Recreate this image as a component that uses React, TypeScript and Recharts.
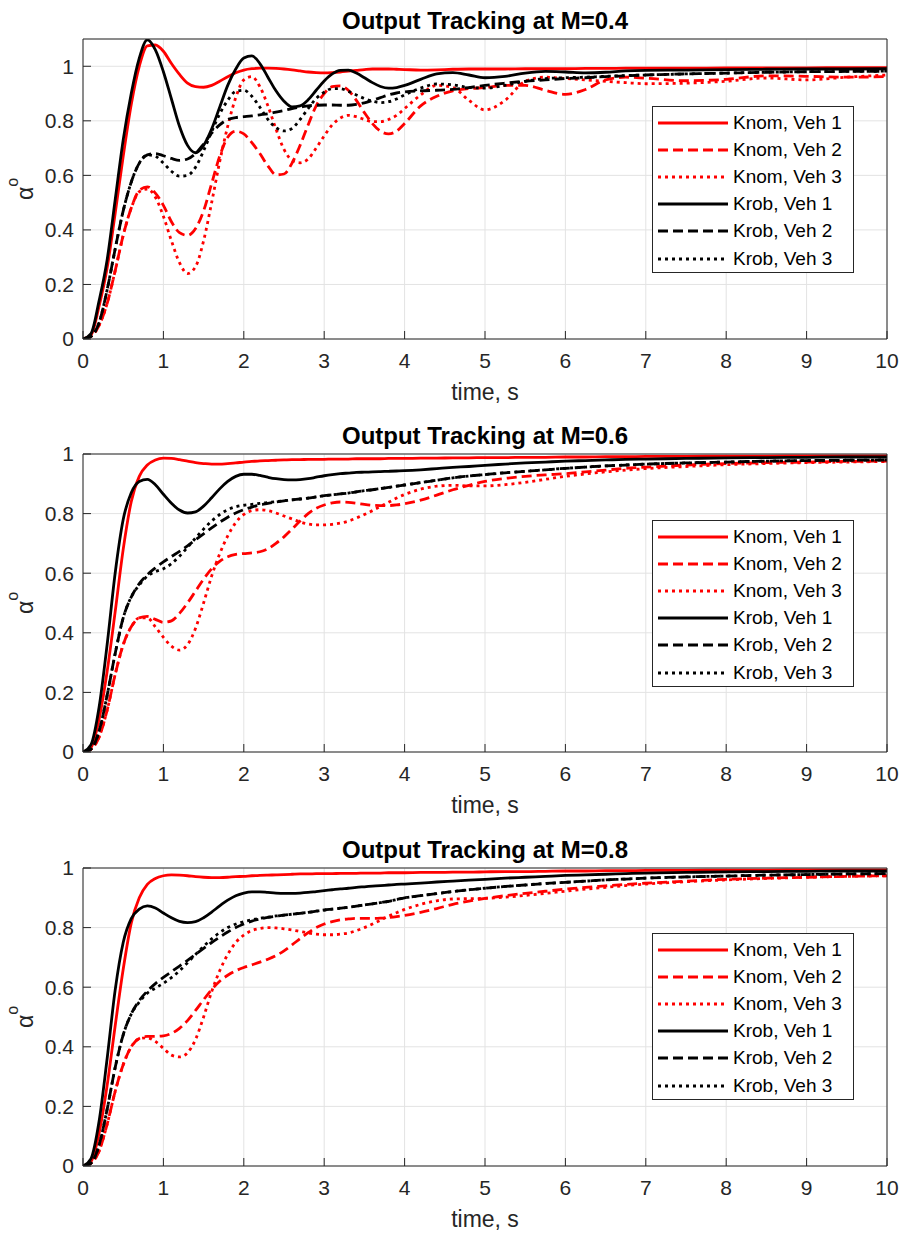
import React from "react";
import { CartesianGrid, Legend, Line, LineChart, XAxis, YAxis } from "recharts";

// sample times (s), shared by every curve
const TIME = [
  0, 0.1, 0.2, 0.3, 0.4, 0.5, 0.6, 0.7, 0.8, 0.9,
  1, 1.1, 1.2, 1.3, 1.4, 1.5, 1.6, 1.7, 1.8, 1.9,
  2, 2.1, 2.2, 2.3, 2.4, 2.5, 2.6, 2.7, 2.8, 2.9,
  3, 3.1, 3.2, 3.3, 3.4, 3.5, 3.6, 3.7, 3.8, 3.9,
  4, 4.2, 4.4, 4.6, 4.8, 5, 5.25, 5.5, 5.75, 6,
  6.25, 6.5, 6.75, 7, 7.5, 8, 8.5, 9, 9.5, 10,
];
const X_TICKS = [0, 1, 2, 3, 4, 5, 6, 7, 8, 9, 10];
const Y_TICKS = [0, 0.2, 0.4, 0.6, 0.8, 1];
const SERIES_NAMES = ["Knom, Veh 1", "Knom, Veh 2", "Knom, Veh 3", "Krob, Veh 1", "Krob, Veh 2", "Krob, Veh 3"];
const TITLES = ["Output Tracking at M=0.4", "Output Tracking at M=0.6", "Output Tracking at M=0.8"];

// M = 0.4
const M04_KNOM_V1 = [
  0, 0.015, 0.12, 0.26, 0.46, 0.67, 0.86, 1.0, 1.075, 1.078,
  1.055, 1.01, 0.97, 0.938, 0.925, 0.923, 0.93, 0.945, 0.962, 0.976,
  0.986, 0.991, 0.993, 0.993, 0.992, 0.99, 0.987, 0.983, 0.979, 0.977,
  0.976, 0.977, 0.979, 0.982, 0.985, 0.988, 0.99, 0.99, 0.99, 0.989,
  0.988, 0.986, 0.987, 0.989, 0.99, 0.99, 0.99, 0.991, 0.991, 0.991,
  0.992, 0.992, 0.993, 0.993, 0.993, 0.994, 0.994, 0.994, 0.995, 0.995,
];
const M04_KNOM_V2 = [
  0, 0.01, 0.05, 0.13, 0.25, 0.38, 0.48, 0.545, 0.558, 0.535,
  0.49, 0.43, 0.39, 0.38, 0.405, 0.47, 0.57, 0.67, 0.74, 0.762,
  0.752, 0.72, 0.68, 0.635, 0.602, 0.605, 0.645, 0.71, 0.785, 0.855,
  0.9, 0.925, 0.928, 0.912, 0.875, 0.83, 0.79, 0.762, 0.752, 0.762,
  0.79, 0.855, 0.89, 0.91, 0.918, 0.922, 0.93, 0.93, 0.912, 0.897,
  0.915, 0.95, 0.96, 0.956, 0.947, 0.952, 0.965, 0.963, 0.96, 0.962,
];
const M04_KNOM_V3 = [
  0, 0.01, 0.05, 0.13, 0.25, 0.38, 0.48, 0.54, 0.55, 0.52,
  0.45, 0.36, 0.28, 0.24, 0.265, 0.36, 0.5, 0.65, 0.78, 0.885,
  0.95, 0.962, 0.925, 0.855, 0.77, 0.695, 0.655, 0.646, 0.66, 0.7,
  0.745, 0.785, 0.81, 0.82, 0.815, 0.805, 0.797, 0.797, 0.805, 0.82,
  0.845, 0.895, 0.93, 0.922, 0.875, 0.84, 0.875, 0.945, 0.96, 0.955,
  0.95, 0.945, 0.94, 0.936, 0.938, 0.945, 0.957, 0.95, 0.96, 0.968,
];
const M04_KROB_V1 = [
  0, 0.02, 0.14, 0.29, 0.51, 0.73, 0.9, 1.03, 1.097, 1.06,
  0.98, 0.88, 0.78, 0.71, 0.683, 0.71, 0.77, 0.85, 0.93, 0.99,
  1.03, 1.038, 1.01, 0.96, 0.91, 0.872, 0.851, 0.855, 0.877, 0.912,
  0.946, 0.972, 0.985, 0.986, 0.975, 0.958, 0.94, 0.926, 0.92, 0.922,
  0.93, 0.952, 0.972, 0.977, 0.968, 0.958, 0.963, 0.975, 0.981, 0.979,
  0.976, 0.978, 0.983, 0.985, 0.986, 0.988, 0.989, 0.99, 0.99, 0.991,
];
const M04_KROB_V2 = [
  0, 0.01, 0.06, 0.18, 0.33, 0.47, 0.575, 0.645, 0.675, 0.68,
  0.672, 0.662, 0.655, 0.66, 0.68, 0.715, 0.755, 0.785, 0.805, 0.812,
  0.815, 0.818, 0.822, 0.826, 0.832, 0.838, 0.845, 0.85, 0.855, 0.857,
  0.858, 0.858, 0.857, 0.857, 0.86, 0.866, 0.875, 0.885, 0.895, 0.902,
  0.906, 0.91, 0.912, 0.915, 0.922, 0.93, 0.938, 0.945, 0.95, 0.955,
  0.958, 0.962, 0.965, 0.968, 0.972, 0.975, 0.978, 0.98, 0.981, 0.982,
];
const M04_KROB_V3 = [
  0, 0.01, 0.06, 0.18, 0.33, 0.47, 0.575, 0.645, 0.675, 0.67,
  0.645, 0.615, 0.597, 0.6, 0.63, 0.69, 0.76, 0.825, 0.875, 0.908,
  0.912, 0.89, 0.85, 0.805, 0.775, 0.763, 0.772, 0.805, 0.845, 0.882,
  0.905, 0.918, 0.918, 0.908, 0.895, 0.882, 0.872, 0.867, 0.87, 0.88,
  0.895, 0.92, 0.935, 0.932, 0.922, 0.92, 0.93, 0.945, 0.955, 0.958,
  0.96, 0.963, 0.966, 0.968, 0.972, 0.975, 0.978, 0.98, 0.981, 0.982,
];

// M = 0.6
const M06_KNOM_V1 = [
  0, 0.015, 0.11, 0.27, 0.47, 0.68, 0.84, 0.925, 0.963, 0.98,
  0.986, 0.985, 0.981, 0.976, 0.971, 0.968, 0.966, 0.966, 0.968, 0.97,
  0.973, 0.975, 0.977, 0.978, 0.979, 0.98, 0.981, 0.981, 0.982, 0.982,
  0.982, 0.983, 0.983, 0.983, 0.984, 0.984, 0.984, 0.984, 0.985, 0.985,
  0.985, 0.986, 0.986, 0.987, 0.987, 0.988, 0.988, 0.989, 0.989, 0.99,
  0.99, 0.991, 0.991, 0.992, 0.992, 0.993, 0.993, 0.994, 0.994, 0.994,
];
const M06_KNOM_V2 = [
  0, 0.01, 0.05, 0.14, 0.26, 0.36, 0.42, 0.45, 0.455, 0.445,
  0.435, 0.44, 0.465, 0.5, 0.54, 0.58, 0.615, 0.64, 0.655, 0.663,
  0.666, 0.668, 0.672, 0.682, 0.7, 0.722, 0.748, 0.775, 0.8, 0.818,
  0.829, 0.836, 0.839, 0.838, 0.835, 0.831, 0.828, 0.827, 0.827, 0.829,
  0.833, 0.845, 0.862, 0.88, 0.895, 0.908, 0.918, 0.925, 0.93, 0.934,
  0.94, 0.946, 0.952, 0.956, 0.963, 0.968, 0.971, 0.973, 0.975, 0.976,
];
const M06_KNOM_V3 = [
  0, 0.01, 0.05, 0.14, 0.26, 0.36, 0.42, 0.45, 0.45, 0.42,
  0.385, 0.355, 0.342, 0.36, 0.415, 0.5, 0.59, 0.665, 0.725, 0.77,
  0.797, 0.81, 0.813, 0.81, 0.802, 0.792, 0.782, 0.772, 0.765, 0.762,
  0.762, 0.764, 0.768, 0.775, 0.785, 0.797, 0.81, 0.824, 0.838, 0.852,
  0.864, 0.882, 0.892, 0.895, 0.893, 0.893, 0.897, 0.905, 0.915, 0.925,
  0.933, 0.94, 0.946, 0.951, 0.958, 0.964, 0.968, 0.971, 0.973, 0.975,
];
const M06_KROB_V1 = [
  0, 0.025, 0.15, 0.36, 0.6, 0.78, 0.87, 0.908, 0.915, 0.897,
  0.865, 0.835, 0.812, 0.802, 0.806, 0.825, 0.853, 0.883, 0.908, 0.925,
  0.932, 0.932, 0.928, 0.922, 0.917, 0.914, 0.913, 0.914, 0.917, 0.922,
  0.927, 0.931, 0.934, 0.936, 0.938, 0.939, 0.94, 0.941, 0.942, 0.943,
  0.944, 0.947, 0.951, 0.955, 0.958, 0.962, 0.966, 0.97, 0.973, 0.976,
  0.978, 0.98, 0.982, 0.983, 0.985, 0.987, 0.988, 0.989, 0.99, 0.99,
];
const M06_KROB_V2 = [
  0, 0.01, 0.07, 0.19, 0.33, 0.45, 0.52, 0.565, 0.595, 0.618,
  0.638, 0.656, 0.673, 0.692, 0.712, 0.732, 0.752, 0.771, 0.788, 0.802,
  0.813, 0.822, 0.829, 0.834, 0.839, 0.843, 0.846, 0.849, 0.852, 0.856,
  0.86, 0.863, 0.866, 0.869, 0.873, 0.877, 0.88, 0.884, 0.888, 0.892,
  0.896, 0.904, 0.912, 0.92, 0.926, 0.931, 0.937, 0.942, 0.947, 0.952,
  0.956, 0.96, 0.963, 0.966, 0.97, 0.973, 0.976, 0.978, 0.979, 0.98,
];
const M06_KROB_V3 = [
  0, 0.01, 0.07, 0.19, 0.33, 0.45, 0.52, 0.56, 0.59, 0.605,
  0.615, 0.632, 0.657, 0.687, 0.718, 0.748, 0.775, 0.797, 0.813, 0.823,
  0.828, 0.831, 0.834, 0.837, 0.84, 0.843, 0.846, 0.849, 0.852, 0.856,
  0.86, 0.863, 0.866, 0.869, 0.873, 0.877, 0.88, 0.884, 0.888, 0.892,
  0.896, 0.904, 0.912, 0.92, 0.926, 0.931, 0.937, 0.942, 0.947, 0.952,
  0.956, 0.96, 0.963, 0.966, 0.97, 0.973, 0.976, 0.978, 0.979, 0.98,
];

// M = 0.8
const M08_KNOM_V1 = [
  0, 0.015, 0.11, 0.27, 0.47, 0.66, 0.815, 0.9, 0.945, 0.965,
  0.974, 0.977, 0.976, 0.974, 0.971, 0.969, 0.968, 0.968, 0.969, 0.971,
  0.972, 0.974, 0.975, 0.976, 0.977, 0.978, 0.979, 0.98, 0.98, 0.981,
  0.981, 0.981, 0.982, 0.982, 0.982, 0.983, 0.983, 0.983, 0.984, 0.984,
  0.984, 0.985, 0.985, 0.986, 0.986, 0.987, 0.988, 0.988, 0.989, 0.99,
  0.99, 0.991, 0.991, 0.992, 0.992, 0.993, 0.993, 0.994, 0.994, 0.994,
];
const M08_KNOM_V2 = [
  0, 0.01, 0.05, 0.14, 0.25, 0.34, 0.4, 0.428, 0.435, 0.435,
  0.437, 0.445, 0.462, 0.488, 0.522, 0.558, 0.592, 0.62, 0.64, 0.655,
  0.666, 0.675, 0.684, 0.694, 0.706, 0.722, 0.742, 0.763, 0.783, 0.8,
  0.812, 0.82, 0.826, 0.829, 0.831, 0.831, 0.831, 0.832, 0.834, 0.837,
  0.841, 0.851, 0.864, 0.878, 0.889, 0.898, 0.907, 0.915, 0.922, 0.929,
  0.935, 0.94, 0.945, 0.949, 0.956, 0.962, 0.966, 0.969, 0.972, 0.974,
];
const M08_KNOM_V3 = [
  0, 0.01, 0.05, 0.14, 0.25, 0.34, 0.4, 0.427, 0.43, 0.418,
  0.395, 0.372, 0.366, 0.38, 0.425, 0.5, 0.585, 0.655, 0.71, 0.75,
  0.775, 0.79, 0.797, 0.8, 0.799, 0.796, 0.792, 0.787, 0.782, 0.778,
  0.776, 0.776, 0.778, 0.782, 0.79, 0.8, 0.812, 0.825, 0.838, 0.85,
  0.861, 0.878, 0.89, 0.896, 0.897, 0.898, 0.902, 0.908, 0.915, 0.922,
  0.929, 0.935, 0.941, 0.946, 0.954, 0.96, 0.965, 0.969, 0.972, 0.974,
];
const M08_KROB_V1 = [
  0, 0.025, 0.15, 0.36, 0.59, 0.75, 0.83, 0.862, 0.873, 0.866,
  0.849, 0.833, 0.821, 0.817, 0.82, 0.833, 0.852, 0.873, 0.892, 0.907,
  0.916, 0.92, 0.92, 0.918, 0.916, 0.915, 0.915, 0.916, 0.918, 0.921,
  0.924, 0.927, 0.93, 0.932, 0.935, 0.937, 0.939, 0.941, 0.943, 0.945,
  0.946, 0.949, 0.953, 0.956, 0.959, 0.962, 0.966, 0.969, 0.972, 0.975,
  0.977, 0.979, 0.981, 0.983, 0.985, 0.987, 0.988, 0.989, 0.99, 0.99,
];
const M08_KROB_V2 = [
  0, 0.01, 0.07, 0.19, 0.33, 0.44, 0.51, 0.555, 0.587, 0.612,
  0.633, 0.652, 0.671, 0.69, 0.71, 0.73, 0.75, 0.768, 0.785, 0.8,
  0.812, 0.822, 0.829, 0.834, 0.838, 0.842, 0.845, 0.848, 0.851, 0.855,
  0.859, 0.862, 0.865, 0.868, 0.872, 0.876, 0.88, 0.884, 0.888, 0.894,
  0.9, 0.907, 0.914, 0.921, 0.927, 0.932, 0.938, 0.943, 0.948, 0.952,
  0.956, 0.96, 0.963, 0.966, 0.97, 0.973, 0.976, 0.978, 0.98, 0.981,
];
const M08_KROB_V3 = [
  0, 0.01, 0.07, 0.19, 0.33, 0.44, 0.51, 0.55, 0.58, 0.597,
  0.613, 0.632, 0.655, 0.682, 0.71, 0.737, 0.762, 0.783, 0.8, 0.812,
  0.82, 0.826, 0.831, 0.835, 0.839, 0.842, 0.845, 0.848, 0.851, 0.855,
  0.859, 0.862, 0.865, 0.868, 0.872, 0.876, 0.88, 0.884, 0.888, 0.894,
  0.9, 0.907, 0.914, 0.921, 0.927, 0.932, 0.938, 0.943, 0.948, 0.952,
  0.956, 0.96, 0.963, 0.966, 0.97, 0.973, 0.976, 0.978, 0.98, 0.981,
];

const LINE_STYLES = [
  { key: "knom1", color: "#ff0000", dash: undefined },
  { key: "knom2", color: "#ff0000", dash: "10 5" },
  { key: "knom3", color: "#ff0000", dash: "3 4" },
  { key: "krob1", color: "#000000", dash: undefined },
  { key: "krob2", color: "#000000", dash: "10 5" },
  { key: "krob3", color: "#000000", dash: "3 4" },
];

const PANELS = [
  {
    title: TITLES[0], yMax: 1.1, top: 0, plotTop: 39, plotBottom: 339, legendTop: 106,
    values: [M04_KNOM_V1, M04_KNOM_V2, M04_KNOM_V3, M04_KROB_V1, M04_KROB_V2, M04_KROB_V3],
  },
  {
    title: TITLES[1], yMax: 1, top: 410, plotTop: 454, plotBottom: 752, legendTop: 520,
    values: [M06_KNOM_V1, M06_KNOM_V2, M06_KNOM_V3, M06_KROB_V1, M06_KROB_V2, M06_KROB_V3],
  },
  {
    title: TITLES[2], yMax: 1, top: 823, plotTop: 868, plotBottom: 1166, legendTop: 933,
    values: [M08_KNOM_V1, M08_KNOM_V2, M08_KNOM_V3, M08_KROB_V1, M08_KROB_V2, M08_KROB_V3],
  },
];

const AXIS = "#262626";
const TICK_STYLE = { fill: AXIS, fontSize: 21 };
const LINE_WIDTH = 2.8;

function AlphaLabel({ lx, ly }: { lx: number; ly: number }) {
  return (
    <text x={lx} y={ly} transform={`rotate(-90 ${lx} ${ly})`} textAnchor="middle" fill={AXIS} fontSize={23}>
      α
      <tspan fontSize={16} dy={-15}>
        o
      </tspan>
    </text>
  );
}

function LegendBox() {
  return (
    <div
      style={{
        width: 202,
        height: 167,
        boxSizing: "border-box",
        border: `1px solid ${AXIS}`,
        background: "#fff",
        paddingTop: 2,
      }}
    >
      {LINE_STYLES.map((s, i) => (
        <div key={s.key} style={{ display: "flex", alignItems: "center", height: 27.2 }}>
          <svg width={80} height={10} style={{ display: "block" }}>
            <line x1={5} x2={75} y1={5} y2={5} stroke={s.color} strokeWidth={LINE_WIDTH} strokeDasharray={s.dash} />
          </svg>
          <span style={{ fontSize: 19, color: "#000", lineHeight: "20px", whiteSpace: "nowrap" }}>{SERIES_NAMES[i]}</span>
        </div>
      ))}
    </div>
  );
}

function Panel({ p }: { p: (typeof PANELS)[number] }) {
  const height = p.plotBottom - p.top + 69;
  const data = TIME.map((t, i) => {
    const row: Record<string, number> = { t };
    LINE_STYLES.forEach((s, k) => {
      row[s.key] = p.values[k][i];
    });
    return row;
  });
  const mid = (p.plotTop + p.plotBottom) / 2 - p.top;

  return (
    <div style={{ position: "absolute", left: 0, top: p.top }}>
      <LineChart
        width={902}
        height={height}
        data={data}
        margin={{ top: p.plotTop - p.top - 1, right: 14, bottom: 5, left: 33 }}
      >
        <CartesianGrid stroke="#e3e3e3" />
        <XAxis
          dataKey="t"
          type="number"
          domain={[0, 10]}
          ticks={X_TICKS}
          interval={0}
          height={64}
          tickSize={-8}
          tickMargin={22}
          tick={TICK_STYLE}
          stroke={AXIS}
          allowDataOverflow
          label={{ value: "time, s", position: "insideBottom", offset: 3, fill: AXIS, fontSize: 23 }}
        />
        <XAxis
          xAxisId="top"
          orientation="top"
          dataKey="t"
          type="number"
          domain={[0, 10]}
          ticks={X_TICKS}
          interval={0}
          height={1}
          tickSize={-8}
          tick={false}
          stroke={AXIS}
          allowDataOverflow
          label={{ value: p.title, position: "top", offset: 9.5, fill: "#000", fontSize: 24, fontWeight: "bold" }}
        />
        <YAxis
          type="number"
          domain={[0, p.yMax]}
          ticks={Y_TICKS}
          interval={0}
          width={50}
          tickSize={-8}
          tickMargin={17}
          tick={TICK_STYLE}
          stroke={AXIS}
          allowDataOverflow
          label={<AlphaLabel lx={33} ly={mid} />}
        />
        <YAxis
          yAxisId="r"
          orientation="right"
          type="number"
          domain={[0, p.yMax]}
          ticks={Y_TICKS}
          interval={0}
          width={1}
          tickSize={-8}
          tick={false}
          stroke={AXIS}
          allowDataOverflow
        />
        <Legend
          layout="vertical"
          align="center"
          verticalAlign="middle"
          width={202}
          height={167}
          wrapperStyle={{ left: 652, top: p.legendTop - p.top, width: 202, height: 167 }}
          content={() => <LegendBox />}
        />
        {LINE_STYLES.map((s, i) => (
          <Line
            key={s.key}
            dataKey={s.key}
            name={SERIES_NAMES[i]}
            type="monotone"
            stroke={s.color}
            strokeWidth={LINE_WIDTH}
            strokeDasharray={s.dash}
            dot={false}
            activeDot={false}
            isAnimationActive={false}
          />
        ))}
      </LineChart>
    </div>
  );
}

export default function App() {
  return (
    <div
      style={{
        position: "absolute",
        left: 0,
        top: 0,
        width: 902,
        height: 1235,
        background: "#fff",
        fontFamily: "'Liberation Sans', Arial, Helvetica, sans-serif",
        overflow: "hidden",
      }}
    >
      {PANELS.map((p) => (
        <Panel key={p.title} p={p} />
      ))}
    </div>
  );
}
